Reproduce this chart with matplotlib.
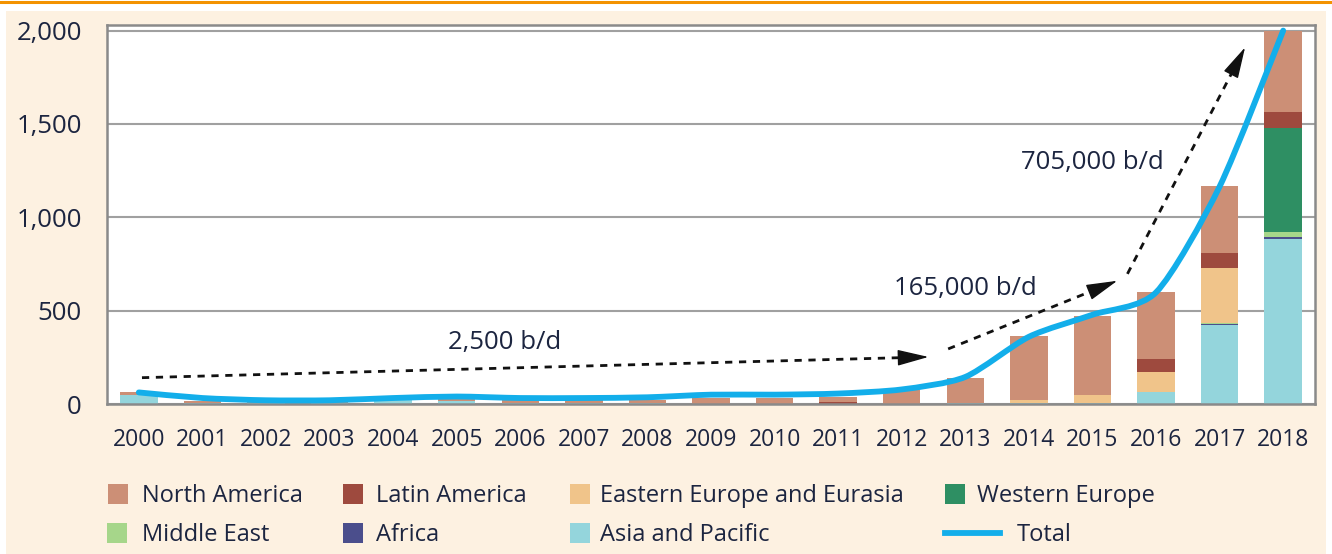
import matplotlib
matplotlib.use("Agg")
import matplotlib.pyplot as plt
import numpy as np
from matplotlib.path import Path
from matplotlib.patches import PathPatch, Rectangle
from matplotlib.lines import Line2D

years = [str(y) for y in range(2000, 2019)]
asia_pacific   = [46, 5, 5, 5, 20, 18, 5, 5, 5, 0, 0, 0, 0, 8, 5, 8, 64, 425, 885]
africa         = [0, 0, 0, 0, 0, 0, 0, 0, 0, 0, 0, 0, 0, 0, 0, 0, 0, 2, 10]
middle_east    = [0, 0, 0, 0, 0, 0, 0, 0, 0, 0, 0, 0, 0, 0, 0, 0, 0, 5, 25]
western_europe = [0, 0, 0, 0, 0, 0, 0, 0, 0, 0, 0, 0, 0, 0, 0, 0, 0, 0, 560]
eastern_europe = [0, 0, 0, 0, 0, 0, 0, 0, 0, 0, 0, 0, 0, 0, 18, 38, 109, 296, 0]
latin_america  = [0, 0, 0, 0, 0, 0, 0, 0, 0, 0, 0, 10, 0, 0, 0, 0, 70, 83, 85]
north_america  = [16, 12, 12, 10, 8, 12, 15, 15, 18, 34, 34, 28, 73, 132, 342, 426, 357, 354, 435]
total          = [62, 32, 20, 20, 32, 40, 32, 32, 36, 50, 50, 56, 78, 145, 360, 478, 598, 1165, 2000]

arrow_segments = [((0.05, 141), (12.42, 252)),
                  ((12.73, 295), (15.39, 660)),
                  ((15.55, 697), (17.40, 1910))]
arrow_labels = [("2,500 b/d", 5.76, 327), ("165,000 b/d", 13.0, 617), ("705,000 b/d", 15.0, 1292)]

yticks = [0, 500, 1000, 1500, 2000]
ytick_labels = ["0", "500", "1,000", "1,500", "2,000"]

series = [
    ("Asia and Pacific", asia_pacific, "#94D5DC"),
    ("Africa", africa, "#4B4E8C"),
    ("Middle East", middle_east, "#A6D68A"),
    ("Western Europe", western_europe, "#2E8F63"),
    ("Eastern Europe and Eurasia", eastern_europe, "#F0C48A"),
    ("Latin America", latin_america, "#9E4A3E"),
    ("North America", north_america, "#CC8F76"),
]
colors = {name: c for name, _, c in series}

FONT = "Open Sans"
TXT = "#1c2540"
BG = "#FDF1E1"
LINE = "#13AEEA"

fig = plt.figure(figsize=(13.32, 5.54), dpi=100)
fig.patch.set_facecolor("white")
fig.patches.append(Rectangle((6/1332, 0), 1 - 12/1332, 1 - 11/554, transform=fig.transFigure,
                             facecolor=BG, edgecolor="none", zorder=-10))
fig.add_artist(Line2D([0, 1], [1 - 1.5/554, 1 - 1.5/554], transform=fig.transFigure,
                      color="#F39200", lw=2.2))

ax = fig.add_axes([107/1332, 1 - 404/554, (1315 - 107)/1332, (404 - 25)/554])
ax.set_facecolor("white")
ax.set_xlim(-0.5, 18.5)
ax.set_ylim(0, 2030)
x = np.arange(len(years))
bottom = np.zeros(len(years))
for name, vals, c in series:
    v = np.array(vals, dtype=float)
    ax.bar(x, v, bottom=bottom, width=0.59, color=c, zorder=2)
    bottom += v

# smoothed total line (Bezier through the data points, computed in display space)
P = ax.transData.transform(np.column_stack([x, np.array(total, dtype=float)]))
verts = [tuple(P[0])]
codes = [Path.MOVETO]
n = len(P)
k = 8.0
for i in range(n - 1):
    p0 = P[i - 1] if i > 0 else P[i]
    p1 = P[i]
    p2 = P[i + 1]
    p3 = P[i + 2] if i + 2 < n else P[i + 1]
    c1 = p1 + (p2 - p0) / k
    c2 = p2 - (p3 - p1) / k
    verts += [tuple(c1), tuple(c2), tuple(p2)]
    codes += [Path.CURVE4] * 3
verts = ax.transData.inverted().transform(np.array(verts))
ax.add_patch(PathPatch(Path(verts, codes), facecolor="none", edgecolor=LINE,
                       lw=4.2, zorder=4, capstyle="round", joinstyle="round"))

# dashed arrows: dashed shaft + solid filled head
head_px = 27.0
for (x0, y0), (x1, y1) in arrow_segments:
    a = ax.transData.transform((x0, y0))
    b = ax.transData.transform((x1, y1))
    L = np.hypot(*(b - a))
    u = (b - a) / L
    shaft_end = ax.transData.inverted().transform(b - u * (head_px - 3))
    head_base = ax.transData.inverted().transform(b - u * head_px)
    ax.plot([x0, shaft_end[0]], [y0, shaft_end[1]], color="#111111", lw=2.0,
            ls=(0, (2.6, 2.4)), zorder=5)
    ax.annotate("", xy=(x1, y1), xytext=tuple(head_base),
                arrowprops=dict(arrowstyle="-|>,head_length=1.4,head_width=0.36",
                                lw=1.0, color="#111111",
                                mutation_scale=14, shrinkA=0, shrinkB=0),
                zorder=5)
for t, tx, ty in arrow_labels:
    ax.text(tx, ty, t, ha="center", va="center", fontsize=18.5, family=FONT, color=TXT, zorder=6)

ax.set_yticks(yticks)
ax.set_yticklabels(ytick_labels)
ax.set_xticks(x)
ax.set_xticklabels(years)
ax.tick_params(axis="both", length=0, labelcolor=TXT)
ax.tick_params(axis="y", pad=18, labelsize=18.5)
ax.tick_params(axis="x", pad=17, labelsize=16.5)
for lab in ax.get_xticklabels() + ax.get_yticklabels():
    lab.set_family(FONT)
ax.grid(axis="y", color="#a0a0a0", lw=1.5, zorder=1)
ax.set_axisbelow(True)
for s in ax.spines.values():
    s.set_color("#8a8a8a")
    s.set_linewidth(1.8)

def fx(px):
    return px / 1332
def fy(py):
    return 1 - py / 554

legend_rows = [
    [("North America", 108, 142), ("Latin America", 343, 376),
     ("Eastern Europe and Eurasia", 570, 600), ("Western Europe", 945, 977)],
    [("Middle East", 107, 142), ("Africa", 343, 376),
     ("Asia and Pacific", 570, 600), ("Total", None, 1017)],
]
row_y = [494, 533]
for row, ry in zip(legend_rows, row_y):
    for name, px, tx in row:
        if name == "Total":
            fig.add_artist(Line2D([fx(945), fx(1000)], [fy(ry), fy(ry)], transform=fig.transFigure,
                                  color=LINE, lw=4.2))
        else:
            fig.patches.append(Rectangle((fx(px), fy(ry + 10)), 20/1332, 20/554,
                                         transform=fig.transFigure, facecolor=colors[name],
                                         edgecolor="none"))
        fig.text(fx(tx), fy(ry + 2), name, ha="left", va="center", fontsize=17,
                 family=FONT, color=TXT)

fig.savefig("out.png", dpi=100, facecolor=fig.get_facecolor())
